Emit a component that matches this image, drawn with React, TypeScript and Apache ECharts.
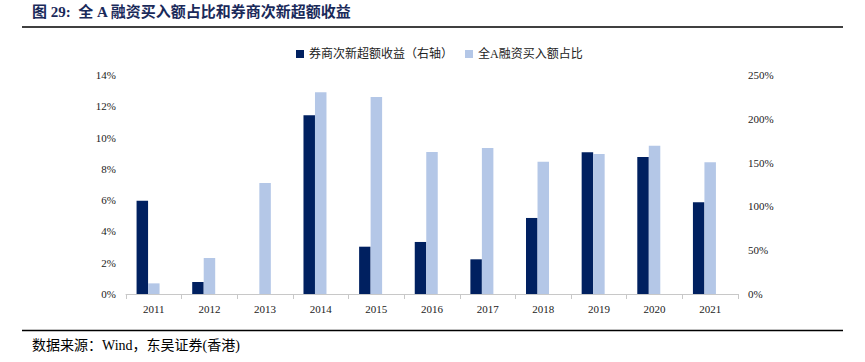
import React, { useEffect, useRef } from "react";
import * as echarts from "echarts";

const categories = ["2011", "2012", "2013", "2014", "2015", "2016", "2017", "2018", "2019", "2020", "2021"];
const brokerExcess = [106.5, 13.7, 0, 204, 54, 59.4, 39.6, 86.8, 161.8, 156.4, 104.7];
const marginShare = [0.68, 2.3, 7.1, 12.9, 12.6, 9.08, 9.33, 8.46, 8.95, 9.48, 8.42];
const spacer = categories.map(() => 0);
const leftTicks = [0, 14, 2];
const rightTicks = [0, 250, 50];

const serif = "'Liberation Serif', 'Times New Roman', 'Noto Sans CJK SC', serif";

export default function App() {
  const ref = useRef<HTMLDivElement>(null);
  useEffect(() => {
    if (!ref.current) return;
    const chart = echarts.init(ref.current, undefined, { renderer: "svg" });
    chart.setOption({
      animation: false,
      backgroundColor: "#ffffff",
      textStyle: { fontFamily: serif },
      graphic: [
        {
          type: "text",
          left: 32,
          top: 4,
          style: {
            text: "图 29:  全 A 融资买入额占比和券商次新超额收益",
            font: "bold 15px 'Liberation Serif', 'Noto Sans CJK SC', serif",
            fill: "#1a2a5a",
          },
        },
        { type: "line", shape: { x1: 22, y1: 27, x2: 843, y2: 27 }, style: { stroke: "#000", lineWidth: 1.5 } },
        { type: "line", shape: { x1: 22, y1: 330.5, x2: 843, y2: 330.5 }, style: { stroke: "#000", lineWidth: 1.5 } },
        {
          type: "text",
          left: 32,
          top: 338,
          style: {
            text: "数据来源：Wind，东吴证券(香港)",
            font: "14px 'Liberation Serif', 'Noto Sans CJK SC', serif",
            fill: "#000",
          },
        },
      ],
      legend: {
        data: ["券商次新超额收益（右轴）", "全A融资买入额占比"],
        left: 291,
        top: 43,
        itemWidth: 8,
        itemHeight: 8,
        itemGap: 12,
        icon: "rect",
        textStyle: { fontSize: 12, color: "#222", fontFamily: serif },
      },
      grid: { left: 126, right: 127, top: 75, bottom: 68 },
      xAxis: {
        type: "category",
        data: categories,
        axisLine: { lineStyle: { color: "#c8c8c8" } },
        axisTick: { show: true, alignWithLabel: false, length: 5, lineStyle: { color: "#c8c8c8" } },
        axisLabel: { color: "#222", fontSize: 11, margin: 9, fontFamily: serif },
      },
      yAxis: [
        {
          type: "value",
          min: leftTicks[0],
          max: leftTicks[1],
          interval: leftTicks[2],
          splitLine: { show: false },
          axisLine: { show: false },
          axisTick: { show: false },
          axisLabel: { formatter: "{value}%", color: "#222", fontSize: 11, margin: 10, fontFamily: serif },
        },
        {
          type: "value",
          min: rightTicks[0],
          max: rightTicks[1],
          interval: rightTicks[2],
          splitLine: { show: false },
          axisLine: { show: false },
          axisTick: { show: false },
          axisLabel: { formatter: "{value}%", color: "#222", fontSize: 11, margin: 10, fontFamily: serif },
        },
      ],
      series: [
        {
          name: "券商次新超额收益（右轴）",
          type: "bar",
          yAxisIndex: 1,
          data: brokerExcess,
          barWidth: 11.5,
          barGap: "0%",
          itemStyle: { color: "#002060" },
        },
        {
          name: "全A融资买入额占比",
          type: "bar",
          yAxisIndex: 0,
          data: marginShare,
          barWidth: 11.5,
          barGap: "0%",
          itemStyle: { color: "#b4c7e7" },
        },
        {
          name: "spacer",
          type: "bar",
          yAxisIndex: 0,
          data: spacer,
          barWidth: 11.5,
          barGap: "0%",
          itemStyle: { color: "rgba(0,0,0,0)" },
          silent: true,
        },
      ],
    });
    return () => chart.dispose();
  }, []);
  return <div ref={ref} style={{ position: "fixed", left: 0, top: 0, width: 865, height: 362 }} />;
}
